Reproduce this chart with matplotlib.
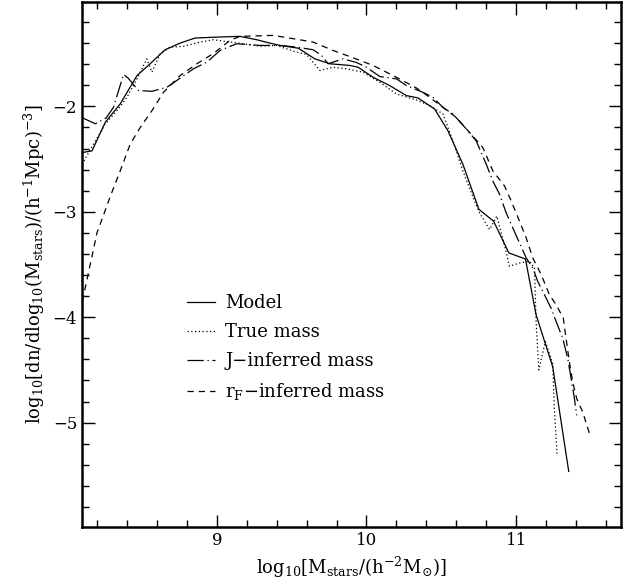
import matplotlib
matplotlib.use("Agg")
import matplotlib.pyplot as plt
from matplotlib.ticker import MultipleLocator

# values
model_x = [8.102, 8.167, 8.255, 8.355, 8.467, 8.555, 8.655, 8.755, 8.855, 9.0, 9.155, 9.267,
           9.355, 9.422, 9.544, 9.655, 9.755, 9.889, 9.944, 10.044, 10.155, 10.267, 10.344,
           10.455, 10.544, 10.644, 10.751, 10.849, 10.951, 11.062, 11.133, 11.244, 11.351]
model_y = [-2.438, -2.422, -2.152, -1.977, -1.708, -1.596, -1.463, -1.400, -1.352, -1.343, -1.336,
           -1.368, -1.400, -1.422, -1.448, -1.549, -1.596, -1.612, -1.629, -1.724, -1.803, -1.898,
           -1.920, -2.025, -2.231, -2.549, -2.977, -3.089, -3.390, -3.448, -3.977, -4.470, -5.463]

true_x = [8.100, 8.177, 8.255, 8.333, 8.400, 8.467, 8.533, 8.567, 8.622, 8.689, 8.777, 8.889,
          8.977, 9.089, 9.177, 9.289, 9.400, 9.511, 9.600, 9.689, 9.777, 9.867, 9.977, 10.089,
          10.200, 10.333, 10.422, 10.511, 10.577, 10.644, 10.722, 10.755, 10.822, 10.871, 10.929,
          10.955, 11.022, 11.089, 11.122, 11.133, 11.151, 11.195, 11.244, 11.255, 11.273]
true_y = [-2.549, -2.358, -2.168, -2.041, -1.914, -1.739, -1.549, -1.676, -1.501, -1.438, -1.431,
          -1.390, -1.368, -1.390, -1.406, -1.429, -1.422, -1.476, -1.508, -1.660, -1.629, -1.644,
          -1.676, -1.771, -1.882, -1.939, -1.993, -2.072, -2.327, -2.612, -2.898, -3.010, -3.168,
          -3.041, -3.358, -3.517, -3.486, -3.470, -3.533, -4.041, -4.501, -4.231, -4.438, -4.867,
          -5.295]

j_x = [8.102, 8.189, 8.261, 8.310, 8.377, 8.407, 8.477, 8.567, 8.667, 8.733, 8.844, 8.933,
       9.022, 9.133, 9.289, 9.422, 9.533, 9.644, 9.700, 9.744, 9.844, 9.933, 10.0, 10.089,
       10.200, 10.267, 10.377, 10.444, 10.511, 10.577, 10.667, 10.733, 10.800, 10.844, 10.889,
       10.933, 10.977, 11.022, 11.067, 11.111, 11.144, 11.189, 11.233, 11.267, 11.311, 11.344,
       11.367, 11.389, 11.404]
j_y = [-2.108, -2.165, -2.110, -2.010, -1.698, -1.730, -1.850, -1.857, -1.819, -1.755, -1.644,
       -1.581, -1.470, -1.406, -1.422, -1.422, -1.438, -1.463, -1.517, -1.596, -1.549, -1.584,
       -1.629, -1.717, -1.739, -1.803, -1.867, -1.914, -2.010, -2.072, -2.215, -2.327, -2.549,
       -2.708, -2.834, -3.010, -3.152, -3.295, -3.438, -3.533, -3.660, -3.787, -3.914, -4.041,
       -4.200, -4.390, -4.581, -4.771, -4.930]

rf_x = [8.102, 8.200, 8.290, 8.355, 8.422, 8.489, 8.567, 8.644, 8.755, 8.867, 8.977, 9.089,
        9.155, 9.377, 9.511, 9.644, 9.777, 9.911, 10.044, 10.200, 10.333, 10.422, 10.511, 10.600,
        10.689, 10.777, 10.844, 10.922, 10.967, 11.022, 11.067, 11.111, 11.167, 11.222, 11.267,
        11.315, 11.333, 11.355, 11.377, 11.404, 11.444, 11.493]
rf_y = [-3.850, -3.200, -2.850, -2.612, -2.358, -2.200, -2.041, -1.867, -1.708, -1.596, -1.499,
        -1.374, -1.336, -1.327, -1.358, -1.390, -1.470, -1.539, -1.612, -1.724, -1.825, -1.914,
        -2.010, -2.105, -2.248, -2.390, -2.612, -2.755, -2.898, -3.089, -3.248, -3.438, -3.596,
        -3.787, -3.882, -4.010, -4.200, -4.422, -4.612, -4.771, -4.898, -5.120]

labels = ["Model", "True mass", "J\u2212inferred mass", "r$_{\\rm F}$\u2212inferred mass"]

plt.rcParams["font.family"] = ["DejaVu Serif"]
plt.rcParams["mathtext.fontset"] = "dejavuserif"

fig = plt.figure(figsize=(6.27, 5.86), dpi=100)
ax = fig.add_axes([0.1308, 0.1007, 0.8596, 0.8959])

ax.plot(model_x, model_y, color="black", lw=0.9, ls="-", label=labels[0])
ax.plot(true_x, true_y, color="black", lw=0.9, ls=(0, (1, 2)), label=labels[1])
ax.plot(j_x, j_y, color="black", lw=0.9, ls=(0, (13, 3, 1, 3)), label=labels[2])
ax.plot(rf_x, rf_y, color="black", lw=0.9, ls=(0, (5, 4)), label=labels[3])

ax.set_xlim(8.1, 11.7)
ax.set_ylim(-5.99, -1.01)
ax.xaxis.set_major_locator(MultipleLocator(1))
ax.xaxis.set_minor_locator(MultipleLocator(0.2))
ax.yaxis.set_major_locator(MultipleLocator(1))
ax.yaxis.set_minor_locator(MultipleLocator(0.2))
ax.tick_params(which="both", direction="in", top=True, right=True, width=1.0, labelsize=12)
ax.tick_params(which="major", length=9)
ax.tick_params(which="minor", length=5)
for s in ax.spines.values():
    s.set_linewidth(1.8)

ax.set_xlabel(r"log$_{10}$[M$_{\rm stars}$/(h$^{-2}$M$_{\odot}$)]", fontsize=13)
ax.set_ylabel(r"log$_{10}$[dn/dlog$_{10}$(M$_{\rm stars}$)/(h$^{-1}$Mpc)$^{-3}$]", fontsize=13)

ax.legend(loc="upper left", bbox_to_anchor=(0.165, 0.474), frameon=False, fontsize=13,
          handlelength=1.55, handletextpad=0.55, labelspacing=0.6)

fig.savefig("out.png", dpi=100)
